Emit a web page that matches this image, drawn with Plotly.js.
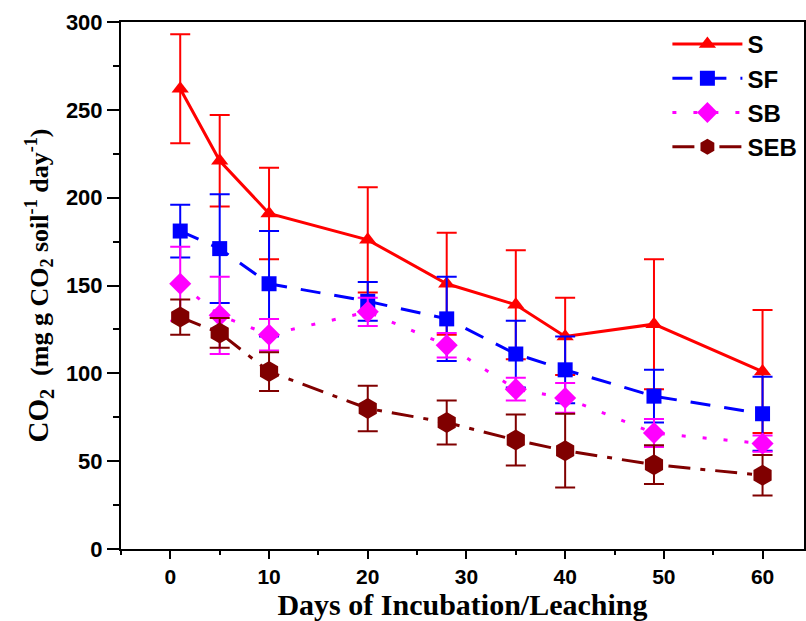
<!DOCTYPE html>
<html>
<head>
<meta charset="utf-8">
<script src="https://cdn.plot.ly/plotly-3.0.1.min.js"></script>
<style>html,body{margin:0;padding:0;background:#fff;}#chart{width:806px;height:621px;}</style>
</head>
<body>
<div id="chart"></div>
<script>
var days = [1, 5, 10, 20, 28, 35, 40, 49, 60];
var seriesNames = ["S", "SF", "SB", "SEB"];
var S_vals   = [262, 221, 191, 176, 151, 139, 121, 128, 101];
var S_err    = [31, 26, 26, 30, 29, 31, 22, 37, 35];
var SF_vals  = [181, 171, 151, 141, 131, 111, 102, 87, 77];
var SF_err   = [15, 31, 30, 11, 24, 19, 19, 15, 21];
var SB_vals  = [151, 133, 122, 135, 116, 91, 86, 66, 60];
var SB_err   = [21, 22, 9, 8, 7, 6.5, 8.5, 8, 4.6];
var SEB_vals = [132, 123, 101, 80, 72, 62, 56, 48, 42];
var SEB_err  = [10, 8.5, 11, 13, 12.5, 14.5, 21, 11, 11.5];
var xTicks = [0, 10, 20, 30, 40, 50, 60];
var yTicks = [0, 50, 100, 150, 200, 250, 300];

function tr(name, y, err, color, dash, symbol, msize) {
  return {
    x: days, y: y, name: name, type: 'scatter', mode: 'lines+markers',
    line: {color: color, width: 3, dash: dash},
    marker: {color: color, symbol: symbol, size: msize},
    error_y: {type: 'data', array: err, visible: true, color: color, thickness: 2, width: 10}
  };
}
var data = [
  tr(seriesNames[0], S_vals, S_err, '#ff0000', 'solid', 'triangle-up', 15),
  tr(seriesNames[1], SF_vals, SF_err, '#0000ff', '20px,14px', 'square', 15),
  tr(seriesNames[2], SB_vals, SB_err, '#ff00ff', '4px,17px', 'diamond', 17),
  tr(seriesNames[3], SEB_vals, SEB_err, '#800000', '22px,10px,5px,10px', 'hexagon', 21)
];
var layout = {
  width: 806, height: 621,
  margin: {l: 121, r: 2, t: 22, b: 72},
  paper_bgcolor: '#fff', plot_bgcolor: '#fff',
  showlegend: true,
  legend: {x: 0.8, y: 1.0, xanchor: 'left', yanchor: 'top', bgcolor: 'rgba(0,0,0,0)',
           font: {family: 'Arial, Liberation Sans', size: 24, color: '#000', weight: 'bold'},
           itemwidth: 70, tracegroupgap: 0},
  xaxis: {
    range: [-5, 64.2], tickvals: xTicks, ticktext: xTicks.map(String),
    showgrid: false, zeroline: false, showline: true, linecolor: '#000', linewidth: 2, mirror: true,
    ticks: 'outside', ticklen: 8, tickwidth: 2, tickcolor: '#000',
    minor: {dtick: 5, tick0: 0, ticks: 'outside', ticklen: 4, tickwidth: 2, tickcolor: '#000'},
    tickfont: {family: 'Arial, Liberation Sans', size: 21, color: '#000', weight: 'bold'},
    title: {text: 'Days of Incubation/Leaching', standoff: 6,
            font: {family: 'Liberation Serif, Times New Roman', size: 30, color: '#000', weight: 'bold'}}
  },
  yaxis: {
    range: [0, 300], tickvals: yTicks, ticktext: yTicks.map(String),
    showgrid: false, zeroline: false, showline: true, linecolor: '#000', linewidth: 2, mirror: true,
    ticks: 'outside', ticklen: 12, tickwidth: 2, tickcolor: '#000',
    minor: {dtick: 25, tick0: 0, ticks: 'outside', ticklen: 6, tickwidth: 2, tickcolor: '#000'},
    tickfont: {family: 'Arial, Liberation Sans', size: 22, color: '#000', weight: 'bold'},
    title: {text: '<span style="font-size:29px">CO<sub>2</sub></span>&nbsp;&nbsp;<span style="font-size:26px">(mg g CO<sub>2</sub> soil<sup>-1</sup> day<sup>-1</sup>)</span>', standoff: 10,
            font: {family: 'Liberation Serif, Times New Roman', size: 26, color: '#000', weight: 'bold'}}
  }
};
Plotly.newPlot('chart', data, layout, {displayModeBar: false, staticPlot: true});
</script>
</body>
</html>
